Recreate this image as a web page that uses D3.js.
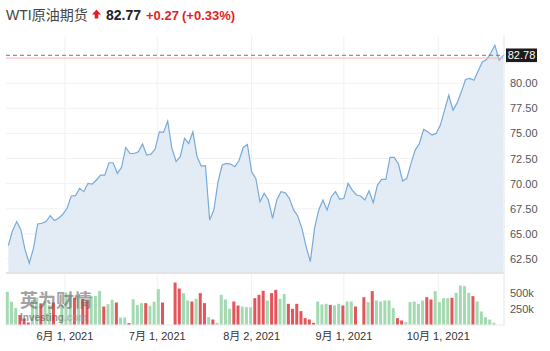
<!DOCTYPE html>
<html>
<head>
<meta charset="utf-8">
<script src="https://cdn.jsdelivr.net/npm/d3@7"></script>
<style>
  body { margin: 0; background: #fff; }
  svg { display: block; font-family: "Liberation Sans", Arial, "Noto Sans CJK SC", sans-serif; }
</style>
</head>
<body>
<svg id="lienzo" width="550" height="351"></svg>
<script>
// daily closes, mid-May to Oct 22 2021
const prices = [
  63.83, 65.29, 66.22, 65.39, 63.40, 62.07, 63.56, 65.98, 66.05, 66.22, 66.81, 66.32, 66.55, 66.95,
  67.54, 68.77, 68.80, 69.53, 69.20, 70.03, 69.96, 70.36, 70.85, 70.85, 72.08, 72.08, 71.02, 71.62, 73.60, 73.00, 73.00, 73.17, 73.94, 72.84, 72.94, 73.44,
  75.16, 75.10, 76.22, 73.50, 72.20, 72.68, 74.50, 74.00, 75.16, 72.68, 71.75, 71.78, 66.38, 67.37, 70.19, 71.85, 72.02, 71.95, 71.68, 72.30, 73.60, 73.90,
  71.18, 70.52, 68.20, 69.04, 68.37, 66.55, 68.37, 69.20, 69.10, 68.54, 67.38, 66.78, 65.55, 63.73, 62.24, 65.55, 67.38, 68.37, 67.38, 68.70, 69.20, 68.44,
  68.54, 70.03, 69.36, 68.87, 68.77, 68.37, 69.29, 68.10, 69.86, 70.43, 70.43, 72.61, 72.61, 71.95, 70.26, 70.53, 72.02, 73.34, 74.00, 75.40, 75.16, 74.83, 75.00,
  75.83, 77.32, 78.80, 77.32, 78.04, 79.14, 80.37, 80.47, 80.30, 81.22, 82.12, 82.36, 83.00, 83.78, 82.30, 82.78
];

// volume in thousands
const volumes = [
  511, 355, 256, 147, 94, 31, 380, 420, 330, 360, 300, 344, 0, 300,
  500, 470, 420, 450, 400, 380, 448, 448, 526, 281, 319, 386, 344, 109, 109, 22, 396, 303, 334, 334, 292, 355,
  553, 344, 0, 0, 656, 562, 490, 375, 359, 401, 490, 334, 115, 78, 26, 464, 391, 245, 359, 297, 281, 271,
  271, 412, 464, 527, 375, 490, 542, 401, 475, 323, 245, 323, 209, 99, 78, 26, 359, 313, 323, 307, 297, 323,
  297, 359, 359, 281, 0, 427, 349, 522, 375, 359, 375, 375, 256, 99, 63, 37, 350, 359, 323, 375, 427, 391, 522,
  350, 412, 412, 417, 495, 609, 599, 495, 443, 359, 203, 115, 78, 26, 0, 0
];

// 1 = up day (green), 0 = down day (red)
const volumeUp = [
  1, 1, 1, 0, 0, 0, 1, 1, 0, 1, 1, 0, 1, 1,
  1, 1, 0, 1, 0, 0, 1, 1, 1, 0, 1, 1, 0, 1, 1, 0, 1, 1, 1, 0, 1, 1,
  1, 0, 1, 1, 0, 0, 1, 1, 0, 1, 0, 0, 1, 0, 1, 1, 1, 1, 0, 0, 1, 1,
  1, 0, 0, 0, 1, 0, 0, 1, 1, 0, 0, 0, 0, 0, 0, 0, 1, 1, 1, 0, 1, 1,
  0, 1, 1, 0, 1, 0, 1, 0, 1, 1, 1, 1, 1, 0, 0, 1, 1, 1, 1, 1, 0, 0, 1,
  1, 1, 1, 0, 1, 1, 1, 1, 0, 1, 1, 1, 1, 1, 1, 1
];

// month ticks, in data-index units
const monthTicks = [13.5, 35.5, 58, 80, 102.5];
const monthLabels = ['6月 1, 2021', '7月 1, 2021', '8月 2, 2021', '9月 1, 2021', '10月 1, 2021'];

const priceTicks = [62.5, 65, 67.5, 70, 72.5, 75, 77.5, 80];
const volumeTicks = [250, 500];
const volumeTickLabels = ['250k', '500k'];

const lastPrice = 82.78;
const prevClose = 82.50;

const svg = d3.select('#lienzo');

const left = 6, right = 504;
const x = d3.scaleLinear().domain([0, prices.length - 1]).range([8.3, 503.3]);
const y = d3.scaleLinear().domain([61.2, 84.7]).range([272, 36]);
const yv = d3.scaleLinear().domain([0, 750]).range([324.5, 276.5]);

// grid
svg.append('g').selectAll('line')
    .data(priceTicks)
    .enter()
    .append('line')
    .attr('x1', left).attr('x2', right)
    .attr('y1', d => y(d)).attr('y2', d => y(d))
    .attr('stroke', '#f1f1f1');

svg.append('g').selectAll('line')
    .data(monthTicks)
    .enter()
    .append('line')
    .attr('x1', d => x(d)).attr('x2', d => x(d))
    .attr('y1', 36).attr('y2', 326)
    .attr('stroke', '#f1f1f1');

// price area + line
const area = d3.area()
    .x((d, i) => x(i))
    .y0(272)
    .y1(d => y(d));

const line = d3.line()
    .x((d, i) => x(i))
    .y(d => y(d));

svg.append('path')
    .datum(prices)
    .attr('d', area)
    .attr('fill', '#e3ecf4');

svg.append('path')
    .datum(prices)
    .attr('d', line)
    .attr('fill', 'none')
    .attr('stroke', '#78aad8')
    .attr('stroke-width', 1.2);

// previous close and last price lines
svg.append('line')
    .attr('x1', left).attr('x2', right)
    .attr('y1', y(prevClose)).attr('y2', y(prevClose))
    .attr('stroke', '#f6b5b5')
    .attr('stroke-width', 1);

svg.append('line')
    .attr('x1', left).attr('x2', right)
    .attr('y1', y(lastPrice)).attr('y2', y(lastPrice))
    .attr('stroke', '#777')
    .attr('stroke-dasharray', '4,3')
    .attr('stroke-width', 1);

// panel separators
svg.append('rect')
    .attr('x', left).attr('y', 272)
    .attr('width', right - left).attr('height', 2)
    .attr('fill', '#e4e4e4');

svg.append('line')
    .attr('x1', left).attr('x2', right)
    .attr('y1', 325).attr('y2', 325)
    .attr('stroke', '#e6e9ee');

svg.append('line')
    .attr('x1', right).attr('x2', right)
    .attr('y1', 36).attr('y2', 326)
    .attr('stroke', '#e6e6e6');

// volume bars
svg.append('g').selectAll('rect')
    .data(volumes)
    .enter()
    .append('rect')
    .attr('x', (d, i) => x(i) - 2.5)
    .attr('y', d => yv(d))
    .attr('width', 3)
    .attr('height', d => yv(0) - yv(d))
    .attr('fill', (d, i) => volumeUp[i] ? '#a4dab2' : '#e4545b');

// watermark
const wm = svg.append('g').attr('opacity', 0.6);
wm.append('text')
    .attr('x', 20).attr('y', 307)
    .attr('font-size', '18px')
    .attr('font-weight', 'bold')
    .attr('font-family', '"Noto Sans CJK SC", sans-serif')
    .attr('fill', '#666')
    .text('英为财情');
wm.append('text')
    .attr('x', 20).attr('y', 321)
    .attr('font-size', '10px')
    .attr('font-weight', 'bold')
    .attr('fill', '#555')
    .text('Investing')
    .append('tspan')
    .attr('fill', '#999')
    .text('.com');

// right axis labels
svg.append('g').selectAll('text')
    .data(priceTicks)
    .enter()
    .append('text')
    .attr('x', 510)
    .attr('y', d => y(d))
    .attr('dominant-baseline', 'central')
    .attr('font-size', '11px')
    .attr('fill', '#555')
    .text(d => d3.format('.2f')(d));

svg.append('g').selectAll('text')
    .data(volumeTicks)
    .enter()
    .append('text')
    .attr('x', 510)
    .attr('y', d => yv(d))
    .attr('dominant-baseline', 'central')
    .attr('font-size', '11px')
    .attr('fill', '#555')
    .text((d, i) => volumeTickLabels[i]);

// last price tag
svg.append('rect')
    .attr('x', 506).attr('y', y(lastPrice) - 6.8)
    .attr('width', 31).attr('height', 13.6)
    .attr('fill', '#1c1c1c');
svg.append('text')
    .attr('x', 521.5).attr('y', y(lastPrice))
    .attr('text-anchor', 'middle')
    .attr('dominant-baseline', 'central')
    .attr('font-size', '11px')
    .attr('fill', '#fff')
    .text(d3.format('.2f')(lastPrice));

// bottom axis labels
svg.append('g').selectAll('text')
    .data(monthTicks)
    .enter()
    .append('text')
    .attr('x', d => x(d))
    .attr('y', 340)
    .attr('text-anchor', 'middle')
    .attr('font-size', '11px')
    .attr('fill', '#333')
    .text((d, i) => monthLabels[i]);

// header
svg.append('text')
    .attr('x', 6).attr('y', 20)
    .attr('font-size', '14px')
    .attr('fill', '#444')
    .text('WTI原油期货');

svg.append('path')
    .attr('d', 'M96.5,9.5 L101,14.5 L98.3,14.5 L98.3,18.5 L94.7,18.5 L94.7,14.5 L92,14.5 Z')
    .attr('fill', '#e41e26');

svg.append('text')
    .attr('x', 106).attr('y', 20)
    .attr('font-size', '14px')
    .attr('font-weight', 'bold')
    .attr('fill', '#222')
    .text('82.77');

svg.append('text')
    .attr('x', 146).attr('y', 20)
    .attr('font-size', '13px')
    .attr('font-weight', 'bold')
    .attr('fill', '#e41e26')
    .text('+0.27');

svg.append('text')
    .attr('x', 182).attr('y', 20)
    .attr('font-size', '13px')
    .attr('font-weight', 'bold')
    .attr('fill', '#e41e26')
    .text('(+0.33%)');
</script>
</body>
</html>
